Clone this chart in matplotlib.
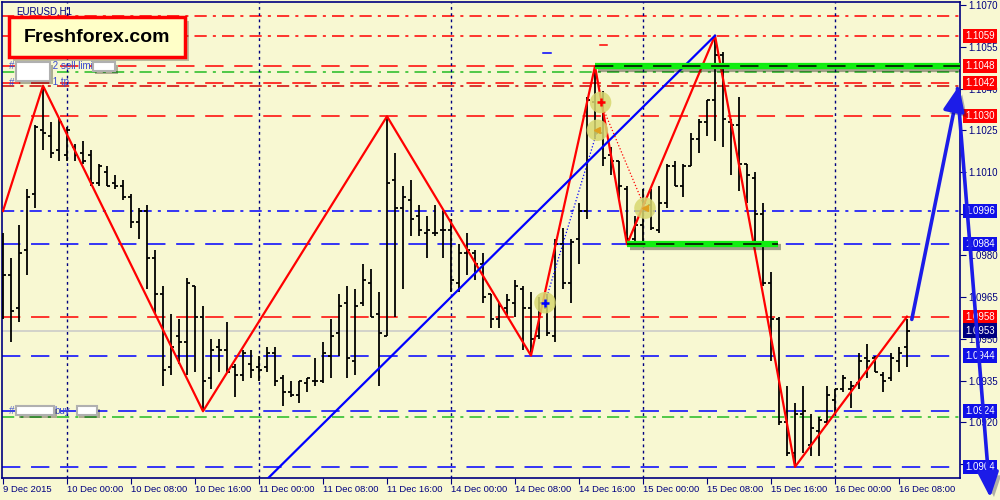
import matplotlib
matplotlib.use("Agg")
import matplotlib.pyplot as plt
import matplotlib.patheffects as pe
from matplotlib.patches import Rectangle
from matplotlib.transforms import blended_transform_factory
import numpy as np

plt.rcParams['font.family'] = ['Liberation Sans', 'DejaVu Sans']

# EURUSD H1, 9 Dec 16:00 .. 16 Dec 09:00 (one bar per hour, weekend skipped)
bar_open = [1.0972, 1.0973, 1.0961, 1.0982, 1.1002, 1.1025, 1.1023, 1.1018, 1.1016, 1.1019,
            1.1017, 1.1016, 1.1006, 1.1010, 1.1006, 1.1005, 1.1001, 1.0992, 1.0996, 1.0979,
            1.0966, 1.0940, 1.0951, 1.0949, 1.0969, 1.0958, 1.0936, 1.0947, 1.0946, 1.0940,
            1.0937, 1.0941, 1.0940, 1.0940, 1.0945, 1.0936, 1.0931, 1.0930, 1.0934, 1.0935,
            1.0935, 1.0944, 1.0952, 1.0963, 1.0942, 1.0963, 1.0970, 1.0959, 1.0951, 1.1007,
            1.0997, 1.1000, 1.0994, 1.0988, 1.0988, 1.0989, 1.0989, 1.0970, 1.0981, 1.0981,
            1.0977, 1.0966, 1.0957, 1.0961, 1.0963, 1.0968, 1.0961, 1.0951, 1.0961, 1.0951,
            1.0984, 1.0970, 1.0986, 1.0996, 1.1035, 1.1024, 1.1016, 1.1014, 1.1004, 1.0986,
            1.0991, 1.0998, 1.0989, 1.0999, 1.1012, 1.1005, 1.1012, 1.1022, 1.1028, 1.1036,
            1.1052, 1.1028, 1.1027, 1.1013, 1.1008, 1.0995, 1.0970, 1.0957, 1.0920, 1.0909,
            1.0923, 1.0912, 1.0917, 1.0920, 1.0928, 1.0932, 1.0932, 1.0934, 1.0943, 1.0943,
            1.0937, 1.0936, 1.0942, 1.0947]
bar_high = [1.0988, 1.0979, 1.0991, 1.1004, 1.1027, 1.1041, 1.1028, 1.1029, 1.1026, 1.1020,
            1.1021, 1.1018, 1.1013, 1.1012, 1.1009, 1.1007, 1.1002, 1.0997, 1.0998, 1.0982,
            1.0969, 1.0959, 1.0957, 1.0972, 1.0969, 1.0962, 1.0950, 1.0950, 1.0956, 1.0941,
            1.0946, 1.0946, 1.0944, 1.0947, 1.0947, 1.0937, 1.0935, 1.0935, 1.0936, 1.0943,
            1.0949, 1.0957, 1.0966, 1.0969, 1.0968, 1.0977, 1.0975, 1.0967, 1.1030, 1.1017,
            1.1005, 1.1007, 1.0998, 1.0994, 1.0998, 1.0996, 1.0993, 1.0984, 1.0988, 1.0982,
            1.0981, 1.0966, 1.0963, 1.0966, 1.0971, 1.0969, 1.0967, 1.0965, 1.0966, 1.0986,
            1.0990, 1.0986, 1.0999, 1.1037, 1.1048, 1.1039, 1.1019, 1.1014, 1.1005, 1.0994,
            1.1004, 1.1004, 1.1005, 1.1013, 1.1014, 1.1013, 1.1024, 1.1029, 1.1036, 1.1059,
            1.1053, 1.1029, 1.1037, 1.1013, 1.1010, 1.0999, 1.0974, 1.0958, 1.0933, 1.0927,
            1.0933, 1.0923, 1.0922, 1.0933, 1.0932, 1.0937, 1.0935, 1.0945, 1.0948, 1.0944,
            1.0938, 1.0945, 1.0947, 1.0957]
bar_low = [1.0957, 1.0949, 1.0956, 1.0973, 1.0997, 1.1018, 1.1015, 1.1014, 1.1014, 1.1014,
           1.1013, 1.1005, 1.1005, 1.1005, 1.1004, 1.1000, 1.0990, 1.0986, 1.0968, 1.0959,
           1.0933, 1.0937, 1.0941, 1.0937, 1.0938, 1.0924, 1.0932, 1.0938, 1.0938, 1.0929,
           1.0935, 1.0936, 1.0935, 1.0938, 1.0933, 1.0926, 1.0929, 1.0927, 1.0931, 1.0933,
           1.0934, 1.0936, 1.0944, 1.0936, 1.0937, 1.0962, 1.0958, 1.0933, 1.0951, 1.0958,
           1.0968, 1.0987, 1.0987, 1.0979, 1.0987, 1.0979, 1.0967, 1.0967, 1.0973, 1.0971,
           1.0963, 1.0954, 1.0954, 1.0958, 1.0958, 1.0946, 1.0944, 1.0950, 1.0951, 1.0949,
           1.0968, 1.0963, 1.0977, 1.0993, 1.1022, 1.1012, 1.1009, 1.1000, 1.0984, 1.0984,
           1.0984, 1.0989, 1.0988, 1.0997, 1.1005, 1.1001, 1.1012, 1.1017, 1.1023, 1.1021,
           1.1019, 1.1009, 1.1003, 1.0999, 1.0984, 1.0969, 1.0942, 1.0919, 1.0908, 1.0904,
           1.0909, 1.0908, 1.0908, 1.0919, 1.0923, 1.0931, 1.0925, 1.0932, 1.0936, 1.0938,
           1.0931, 1.0935, 1.0938, 1.0940]
bar_close = [1.0973, 1.0960, 1.0981, 1.1001, 1.1026, 1.1024, 1.1017, 1.1028, 1.1025, 1.1016,
             1.1014, 1.1006, 1.1012, 1.1005, 1.1005, 1.1001, 1.0992, 1.0996, 1.0979, 1.0966,
             1.0939, 1.0947, 1.0949, 1.0970, 1.0958, 1.0935, 1.0946, 1.0946, 1.0938, 1.0937,
             1.0945, 1.0939, 1.0939, 1.0945, 1.0935, 1.0931, 1.0930, 1.0935, 1.0936, 1.0935,
             1.0945, 1.0951, 1.0962, 1.0943, 1.0962, 1.0971, 1.0958, 1.0952, 1.1006, 1.0997,
             1.1001, 1.0993, 1.0989, 1.0989, 1.0988, 1.0989, 1.0971, 1.0981, 1.0982, 1.0977,
             1.0965, 1.0957, 1.0962, 1.0964, 1.0969, 1.0961, 1.0950, 1.0963, 1.0952, 1.0984,
             1.0970, 1.0985, 1.0996, 1.1036, 1.1024, 1.1015, 1.1014, 1.1005, 1.0986, 1.0991,
             1.0999, 1.0990, 1.0999, 1.1012, 1.1005, 1.1012, 1.1022, 1.1028, 1.1036, 1.1052,
             1.1029, 1.1027, 1.1013, 1.1009, 1.0995, 1.0970, 1.0957, 1.0920, 1.0909, 1.0923,
             1.0924, 1.0918, 1.0921, 1.0930, 1.0932, 1.0936, 1.0933, 1.0942, 1.0942, 1.0938,
             1.0935, 1.0943, 1.0945, 1.0953]

tick_bars = [0, 8, 16, 24, 32, 40, 48, 56, 64, 72, 80, 88, 96, 104, 112]
tick_labels = ['9 Dec 2015', '10 Dec 00:00', '10 Dec 08:00', '10 Dec 16:00', '11 Dec 00:00',
               '11 Dec 08:00', '11 Dec 16:00', '14 Dec 00:00', '14 Dec 08:00', '14 Dec 16:00',
               '15 Dec 00:00', '15 Dec 08:00', '15 Dec 16:00', '16 Dec 00:00', '16 Dec 08:00']
day_bars = [8, 32, 56, 80, 104]

price_ticks = [1.0905, 1.0920, 1.0935, 1.0950, 1.0965, 1.0980, 1.0995, 1.1010, 1.1025,
               1.1040, 1.1055, 1.1070]

zigzag_bars = [0, 5, 25, 48, 66, 74, 78, 89, 99, 113]
zigzag_prices = [1.0996, 1.1041, 1.0924, 1.1030, 1.0944, 1.1048, 1.0984, 1.1059, 1.0904, 1.0958]
trend_bars = [30, 89]
trend_prices = [1.0891, 1.1059]

level_prices = [1.1066, 1.1059, 1.1048, 1.1046, 1.1042, 1.1041, 1.1030, 1.0996, 1.0984,
                1.0958, 1.0953, 1.0944, 1.0924, 1.0922, 1.0904]
label_prices = [1.1059, 1.1048, 1.1042, 1.1030, 1.0996, 1.0984, 1.0958, 1.0953, 1.0944,
                1.0924, 1.0904]

signal_bars = [67.75, 74.7, 74.3, 80.25]
signal_prices = [1.0963, 1.1035, 1.1025, 1.0997]

BG = '#f8f8d2'
NAVY = '#000080'
RED = '#ff0000'
BLUE = '#0000ff'
GREEN = '#22bb22'

DASH = (0, (12, 7))
DASHDOT = (0, (8, 4, 2, 4))
level_colors = [RED, RED, RED, GREEN, RED, '#d00000', RED, BLUE, BLUE, RED, '#c8c8c8', BLUE, BLUE, GREEN, BLUE]
level_styles = [DASHDOT, DASHDOT, DASH, DASHDOT, DASH, DASHDOT, DASH, DASHDOT, DASH, DASH, '-',
                DASH, DASH, DASHDOT, DASH]
label_colors = [RED, RED, RED, RED, '#1010e8', '#1010e8', RED, NAVY, '#1010e8', '#1010e8', '#1010e8']

fig = plt.figure(figsize=(10, 5), dpi=100, facecolor=BG)
ax = fig.add_axes([0.002, 0.044, 0.958, 0.952])
ax.set_facecolor(BG)
ax.set_xlim(-0.125, 119.625)
ax.set_ylim(1.0900, 1.10711)

# horizontal order / tp levels
for p, c, ls in zip(level_prices, level_colors, level_styles):
    ax.axhline(p, color=c, lw=1.1, linestyle=ls, zorder=1)

for b in day_bars:
    ax.axvline(b, color=NAVY, lw=1.0, linestyle=(0, (2, 2.5)), zorder=1)

# OHLC bars
x = np.arange(len(bar_open))
ax.vlines(x, bar_low, bar_high, color='black', lw=1.3, zorder=3)
ax.hlines(bar_open, x - 0.4, x, color='black', lw=1.3, zorder=3)
ax.hlines(bar_close, x, x + 0.4, color='black', lw=1.3, zorder=3)

# zigzag + trend line
ax.plot(zigzag_bars, zigzag_prices, color=RED, lw=1.6, zorder=4)
ax.plot(trend_bars, trend_prices, color=BLUE, lw=1.6, zorder=4)

# green zones
shadow = [pe.SimpleLineShadow(offset=(2, -2), alpha=0.35), pe.Normal()]
for x0, x1, p in [(74, 119.625, zigzag_prices[5]), (78, 96.9, zigzag_prices[6])]:
    ax.plot([x0, x1], [p, p], color='#11ee11', lw=4.5, solid_capstyle='butt',
            path_effects=shadow, zorder=5)
    ax.plot([x0, x1], [p, p], color='black', lw=1.1, linestyle=DASH, zorder=5)

# signals
ax.plot(signal_bars[0::2], signal_prices[0::2], color=BLUE, lw=0.9, linestyle=':', zorder=5)
ax.plot(signal_bars[1::2], signal_prices[1::2], color=RED, lw=0.9, linestyle=':', zorder=5)
ax.scatter(signal_bars, signal_prices, s=240, color='#d8d870', alpha=0.85,
           edgecolors='none', zorder=6)
ax.plot(signal_bars[0], signal_prices[0], marker='+', color=BLUE, ms=6, mew=1.8, zorder=7)
ax.plot(signal_bars[1], signal_prices[1], marker='+', color=RED, ms=6, mew=1.8, zorder=7)
ax.plot(signal_bars[2:], signal_prices[2:], ls='none', marker='<', color='#e0a020', ms=4, zorder=7)

# tiny dashes near the top
ax.plot([67.5, 68.5], [1.10528, 1.10528], color=BLUE, lw=1.1, zorder=3)
ax.plot([74.6, 75.5], [1.10556, 1.10556], color=RED, lw=1.1, zorder=3)

# order labels with hidden numbers
lbl = dict(color='#3a4ad0', fontsize=7, va='center', ha='left', zorder=7)
ax.text(0.7, 1.1048, '#', **lbl)
ax.text(5.9, 1.1048, ' 2 sell limit', **lbl)
ax.text(0.7, 1.1042, '#', **lbl)
ax.text(5.9, 1.10425, ' 1 tp', **lbl)
ax.text(0.7, 1.0924, '#', **lbl)
ax.text(6.4, 1.0924, 'buy', **lbl)
box_shadow = [pe.withSimplePatchShadow(offset=(2, -2), shadow_rgbFace='black', alpha=0.3)]
for bx0, bx1, by0, by1 in [(1.6, 5.9, 1.10428, 1.10494), (11.2, 14.0, 1.10463, 1.10494),
                           (1.6, 6.4, 1.09225, 1.09258), (9.2, 11.8, 1.09225, 1.09258)]:
    ax.add_patch(Rectangle((bx0, by0), bx1 - bx0, by1 - by0, fc='white', ec='#b0b0b0',
                           lw=1.5, zorder=8, path_effects=box_shadow))

# axes look
for s in ax.spines.values():
    s.set_color(NAVY)
    s.set_linewidth(1.2)
ax.yaxis.tick_right()
ax.set_yticks(price_ticks)
# labels fully covered by the price tags stay blank
ax.set_yticklabels(['' if t in (1.0905, 1.0995) else f'{t:.4f}' for t in price_ticks])
ax.tick_params(axis='y', direction='out', length=4, pad=2, labelsize=7,
               labelcolor=NAVY, color=NAVY)
ax.set_xticks(tick_bars)
ax.set_xticklabels(tick_labels, ha='left')
ax.tick_params(axis='x', direction='out', length=4, pad=1, labelsize=6.8,
               labelcolor=NAVY, color=NAVY)

# price tags on the right scale
tr = blended_transform_factory(ax.transAxes, ax.transData)
for p, c in zip(label_prices, label_colors):
    ax.text(1.0055, p, f'{p:.4f}', transform=tr, color='white', fontsize=7,
            va='center', ha='left', clip_on=False, zorder=10,
            bbox=dict(boxstyle='square,pad=0.22', fc=c, ec='none'))

# forecast arrows
arrow_kw = dict(arrowstyle='-|>,head_length=0.9,head_width=0.38', color='#1c1ce8', lw=2.6,
                mutation_scale=17, shrinkA=0, shrinkB=0)
a1 = ax.annotate('', xy=(119.5, 1.1041), xytext=(113.6, 1.0957), arrowprops=arrow_kw,
                 annotation_clip=False, zorder=12)
a2 = ax.annotate('', xy=(123.4, 1.0893), xytext=(119.3, 1.1040), arrowprops=arrow_kw,
                 annotation_clip=False, zorder=12)
for a in (a1, a2):
    a.arrow_patch.set_path_effects([pe.withSimplePatchShadow(offset=(3, -3), alpha=0.3)])

fig.text(0.016, 0.978, 'EURUSD,H1', color=NAVY, fontsize=7, va='center', ha='left')

logo = Rectangle((0.009, 0.886), 0.176, 0.08, transform=fig.transFigure, fc='#ffffc8',
                 ec=RED, lw=2.5, zorder=20,
                 path_effects=[pe.withSimplePatchShadow(offset=(3, -3), alpha=0.35)])
fig.add_artist(logo)
fig.text(0.097, 0.926, 'Freshforex.com', ha='center', va='center', fontsize=14,
         fontweight='bold', color='black', zorder=21)

fig.savefig('out.png', dpi=100, facecolor=BG)
